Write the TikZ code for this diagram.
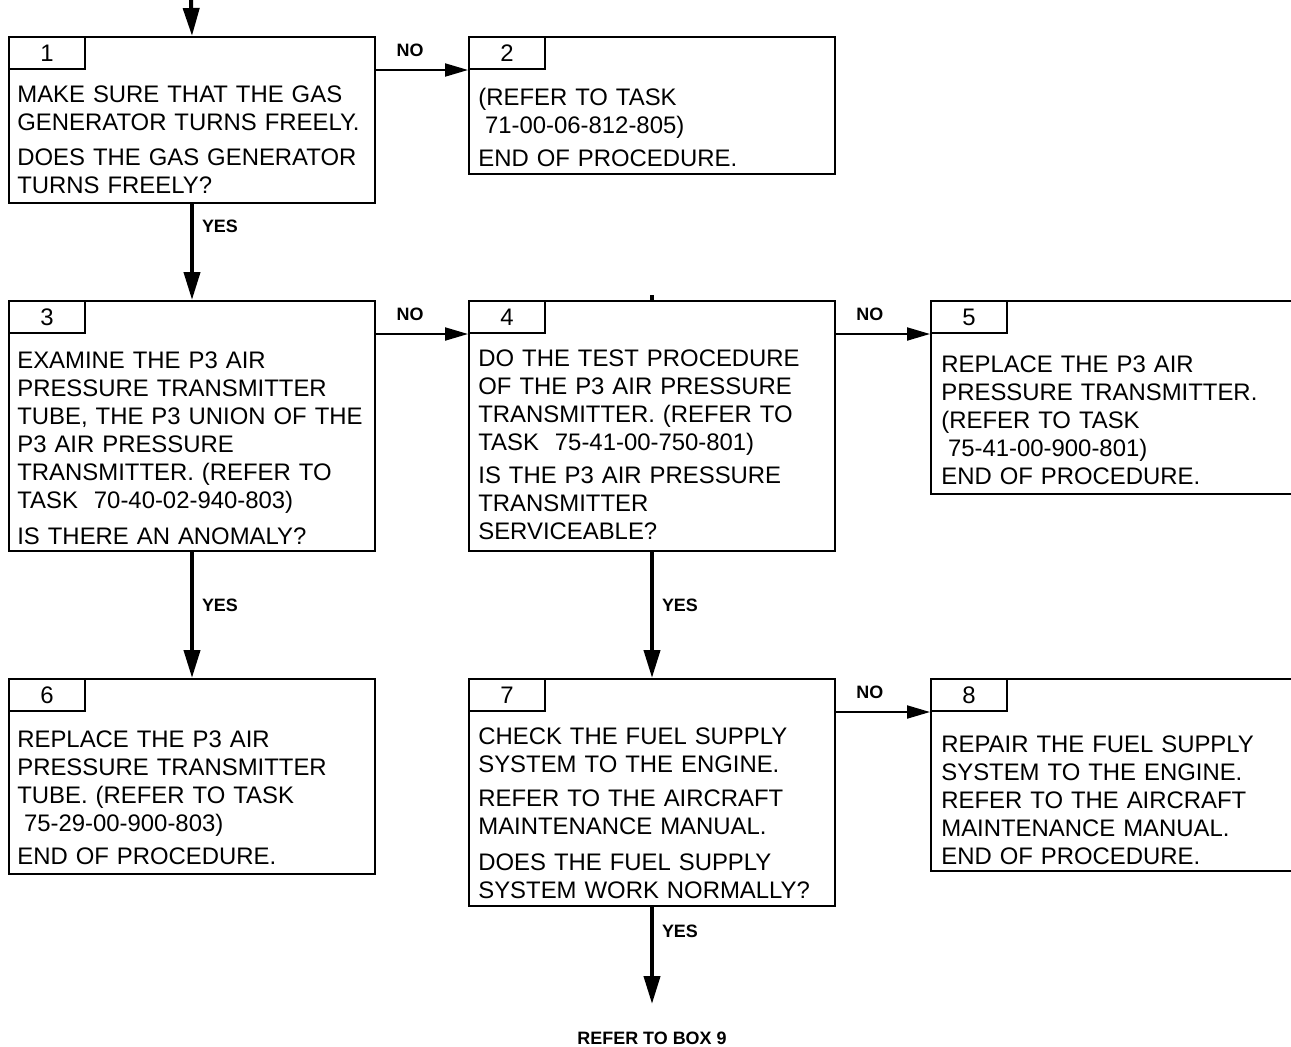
\documentclass[tikz,border=0pt]{standalone}
\usepackage{fontspec}
\setmainfont{Liberation Sans}
\usetikzlibrary{arrows.meta,positioning}

\newcommand\boxfont{\fontsize{13.6pt}{5.6mm}\selectfont}
\newcommand\lblfont{\fontsize{10.2pt}{12pt}\selectfont\bfseries}

\begin{document}
\begin{tikzpicture}[x=0.2mm,y=-0.2mm,
    box/.style={draw,line width=0.4mm,anchor=north west,minimum width=73.2mm,inner sep=0},
    numtab/.style={draw,line width=0.4mm,anchor=north west,minimum width=15.2mm,minimum height=6.4mm,inner sep=0,font=\boxfont},
    boxtext/.style={anchor=north west,inner sep=0,text width=75mm,align=left,font=\boxfont},
    flow/.style={line width=0.4mm,-{Triangle[length=4.6mm,width=2.6mm]}},
    down/.style={line width=0.8mm,-{Triangle[length=5.6mm,width=3.2mm]}},
    lbl/.style={font=\lblfont,inner sep=0}]
  \useasboundingbox (0,0) rectangle (1291,1046);

  % Boxes
  \node[box,minimum height=33.2mm] (b1) at (8,36) {};
  \node[box,minimum height=27.4mm] (b2) at (468,36) {};
  \node[box,minimum height=50mm] (b3) at (8,300) {};
  \node[box,minimum height=50mm] (b4) at (468,300) {};
  \node[box,minimum height=38.6mm,minimum width=76mm] (b5) at (930,300) {};
  \node[box,minimum height=39mm] (b6) at (8,678) {};
  \node[box,minimum height=45.4mm] (b7) at (468,678) {};
  \node[box,minimum height=38.4mm,minimum width=76mm] (b8) at (930,678) {};

  % Number tabs
  \node[numtab] (t1) at (b1.north west) {1};
  \node[numtab] (t2) at (b2.north west) {2};
  \node[numtab] (t3) at (b3.north west) {3};
  \node[numtab] (t4) at (b4.north west) {4};
  \node[numtab] (t5) at (b5.north west) {5};
  \node[numtab] (t6) at (b6.north west) {6};
  \node[numtab] (t7) at (b7.north west) {7};
  \node[numtab] (t8) at (b8.north west) {8};

  % Box texts
  \node[boxtext] (x1) at ([xshift=1.8mm,yshift=-3mm]t1.south west)
    {MAKE SURE THAT THE GAS\\ GENERATOR TURNS FREELY.\\[1.4mm]
     DOES THE GAS GENERATOR\\ TURNS FREELY?};
  \node[boxtext] (x2) at ([xshift=2mm,yshift=-3.6mm]t2.south west)
    {(REFER TO TASK\\ \hspace*{0.28em}71-00-06-812-805)\\[1mm]
     END OF PROCEDURE.};
  \node[boxtext] (x3) at ([xshift=1.8mm,yshift=-3.4mm]t3.south west)
    {EXAMINE THE P3 AIR\\ PRESSURE TRANSMITTER\\ TUBE, THE P3 UNION OF THE\\
     P3 AIR PRESSURE\\ TRANSMITTER. (REFER TO\\ TASK~~70-40-02-940-803)\\[1.6mm]
     IS THERE AN ANOMALY?};
  \node[boxtext] (x4) at ([xshift=2mm,yshift=-3mm]t4.south west)
    {DO THE TEST PROCEDURE\\ OF THE P3 AIR PRESSURE\\ TRANSMITTER. (REFER TO\\
     TASK~~75-41-00-750-801)\\[1mm]
     IS THE P3 AIR PRESSURE\\ TRANSMITTER\\ SERVICEABLE?};
  \node[boxtext] (x5) at ([xshift=2.2mm,yshift=-4.2mm]t5.south west)
    {REPLACE THE P3 AIR\\ PRESSURE TRANSMITTER.\\ (REFER TO TASK\\
     \hspace*{0.28em}75-41-00-900-801)\\ END OF PROCEDURE.};
  \node[boxtext] (x6) at ([xshift=1.8mm,yshift=-3.6mm]t6.south west)
    {REPLACE THE P3 AIR\\ PRESSURE TRANSMITTER\\ TUBE. (REFER TO TASK\\
     \hspace*{0.28em}75-29-00-900-803)\\[1mm]
     END OF PROCEDURE.};
  \node[boxtext] (x7) at ([xshift=2mm,yshift=-3mm]t7.south west)
    {CHECK THE FUEL SUPPLY\\ SYSTEM TO THE ENGINE.\\[1.2mm]
     REFER TO THE AIRCRAFT\\ MAINTENANCE MANUAL.\\[1.6mm]
     DOES THE FUEL SUPPLY\\ SYSTEM WORK NORMALLY?};
  \node[boxtext] (x8) at ([xshift=2.2mm,yshift=-4.6mm]t8.south west)
    {REPAIR THE FUEL SUPPLY\\ SYSTEM TO THE ENGINE.\\ REFER TO THE AIRCRAFT\\
     MAINTENANCE MANUAL.\\ END OF PROCEDURE.};

  % Entry and exit
  \coordinate (entry) at (191,0);
  \coordinate (to9) at ([yshift=-19.4mm]b7.south);
  \node[lbl,below=5.6mm of to9] (box9) {REFER TO BOX 9};

  % YES connectors
  \draw[down] (entry) -- (b1.north);
  \draw[down] (b1.south) -- (b3.north) node[lbl,right=1.6mm,pos=0.23] (yes1) {YES};
  \draw[down] (b3.south) -- (b6.north) node[lbl,right=1.6mm,pos=0.42] (yes3) {YES};
  \draw[down] (b4.south) -- (b7.north) node[lbl,right=1.6mm,pos=0.42] (yes4) {YES};
  \draw[down] (b7.south) -- (to9) node[lbl,right=1.6mm,pos=0.25] (yes7) {YES};
  \draw[line width=0.8mm] (b4.north) -- ++(0,-5);

  % NO connectors
  \draw[flow] (b1.east |- t2.south west) -- (t2.south west) node[lbl,above=2.4mm,pos=0.37] (no1) {NO};
  \draw[flow] (b3.east |- t4.south west) -- (t4.south west) node[lbl,above=2.4mm,pos=0.37] (no3) {NO};
  \draw[flow] (b4.east |- t5.south west) -- (t5.south west) node[lbl,above=2.4mm,pos=0.36] (no4) {NO};
  \draw[flow] (b7.east |- t8.south west) -- (t8.south west) node[lbl,above=2.4mm,pos=0.36] (no7) {NO};
\end{tikzpicture}
\end{document}
